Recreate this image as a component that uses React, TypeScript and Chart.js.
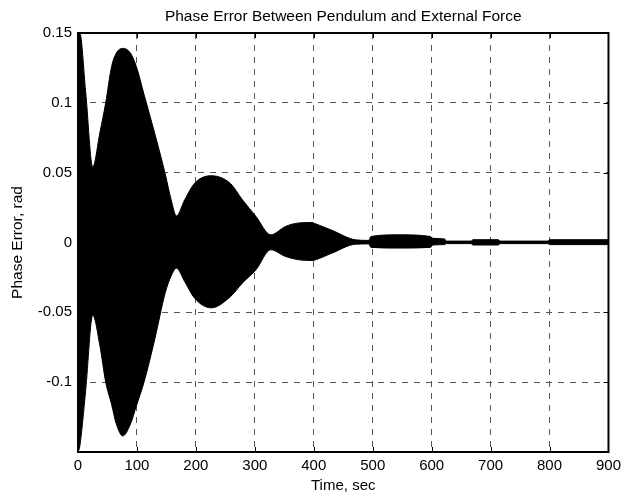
import React, { useEffect, useRef } from "react";
import { Chart, registerables } from "chart.js";

Chart.register(...registerables);

// Time samples (sec) at which the envelope of the fast oscillation was read
const times = [0, 3, 13, 25, 37, 47, 57, 65, 76, 89, 99, 112, 130, 148, 158, 167, 181, 198, 226, 258, 279, 302, 327, 352, 375, 397, 403, 431, 471, 493, 497, 544, 598, 602, 622, 625, 667, 670, 713, 716, 797, 800, 900];
// Upper envelope of phase error (rad)
const upperEnvelope = [0.15, 0.15, 0.108, 0.054, 0.0784, 0.1, 0.126, 0.1356, 0.139, 0.1356, 0.126, 0.106, 0.0784, 0.049, 0.0306, 0.019, 0.0306, 0.0425, 0.0478, 0.0425, 0.0306, 0.0186, 0.0055, 0.0115, 0.014, 0.0143, 0.0134, 0.0087, 0.0019, 0.0015, 0.0043, 0.0055, 0.0043, 0.003, 0.0025, 0.001, 0.001, 0.002, 0.002, 0.001, 0.001, 0.002, 0.002];
// Lower envelope of phase error (rad)
const lowerEnvelope = [-0.15, -0.146, -0.106, -0.052, -0.0735, -0.1, -0.116, -0.13, -0.1385, -0.13, -0.117, -0.1, -0.0697, -0.036, -0.024, -0.0184, -0.028, -0.04, -0.0468, -0.039, -0.029, -0.0195, -0.0052, -0.01, -0.0124, -0.0129, -0.0124, -0.0076, -0.0012, -0.001, -0.0035, -0.004, -0.0035, -0.0018, -0.0015, -0.0008, -0.0008, -0.0018, -0.0018, -0.0008, -0.0008, -0.0015, -0.0015];

const xTicks = [0, 100, 200, 300, 400, 500, 600, 700, 800, 900];
const xTickLabels = ["0", "100", "200", "300", "400", "500", "600", "700", "800", "900"];
const yTicks = [-0.15, -0.1, -0.05, 0, 0.05, 0.1, 0.15];
const yTickLabels = ["", "-0.1", "-0.05", "0", "0.05", "0.1", "0.15"];

const titleText = "Phase Error Between Pendulum and External Force";
const xTitle = "Time, sec";
const yTitle = "Phase Error, rad";

const FONT = "'Liberation Sans', Arial, sans-serif";

const boxPlugin = {
  id: "matlabBox",
  afterDraw(chart: any) {
    const { ctx, chartArea: a } = chart;
    const xs = chart.scales.x;
    const ys = chart.scales.y;
    ctx.save();
    ctx.strokeStyle = "#000";
    ctx.lineWidth = 1;
    const L = 5;
    ctx.beginPath();
    xs.ticks.forEach((t: any) => {
      const px = Math.round(xs.getPixelForValue(t.value)) + 0.5;
      ctx.moveTo(px, a.bottom);
      ctx.lineTo(px, a.bottom - L);
      ctx.moveTo(px, a.top);
      ctx.lineTo(px, a.top + L);
    });
    ys.ticks.forEach((t: any) => {
      const py = Math.round(ys.getPixelForValue(t.value)) + 0.5;
      ctx.moveTo(a.left, py);
      ctx.lineTo(a.left + L, py);
      ctx.moveTo(a.right, py);
      ctx.lineTo(a.right - L, py);
    });
    ctx.stroke();
    ctx.lineWidth = 2;
    ctx.strokeRect(a.left, a.top, a.right - a.left, a.bottom - a.top);
    // title centred over the axes box
    ctx.fillStyle = "#000";
    ctx.font = `15.5px ${FONT}`;
    ctx.textAlign = "center";
    ctx.textBaseline = "alphabetic";
    ctx.fillText(titleText, (a.left + a.right) / 2, 21);
    ctx.restore();
  },
};

export default function App() {
  const ref = useRef<HTMLCanvasElement>(null);
  useEffect(() => {
    if (!ref.current) return;
    const upper = times.map((t, i) => ({ x: t, y: upperEnvelope[i] }));
    const lower = times.map((t, i) => ({ x: t, y: lowerEnvelope[i] }));
    const chart = new Chart(ref.current, {
      type: "line",
      data: {
        datasets: [
          {
            label: "upper",
            data: upper,
            borderColor: "#000",
            backgroundColor: "#000",
            borderWidth: 1,
            pointRadius: 0,
            cubicInterpolationMode: "monotone",
            fill: "+1",
          },
          {
            label: "lower",
            data: lower,
            borderColor: "#000",
            backgroundColor: "#000",
            borderWidth: 1,
            pointRadius: 0,
            cubicInterpolationMode: "monotone",
            fill: false,
          },
        ],
      },
      options: {
        responsive: false,
        animation: false,
        devicePixelRatio: 1,
        layout: { padding: { left: 0, right: 14, top: 33, bottom: 0 } },
        plugins: {
          legend: { display: false },
          tooltip: { enabled: false },
          title: { display: false },
        },
        scales: {
          x: {
            type: "linear",
            min: 0,
            max: 900,
            afterBuildTicks: (s: any) => {
              s.ticks = xTicks.map((v) => ({ value: v }));
            },
            afterFit: (s: any) => {
              s.height = 46;
            },
            ticks: {
              color: "#000",
              font: { family: FONT, size: 15 },
              padding: 5,
              maxRotation: 0,
              autoSkip: false,
              callback: (_v: any, i: number) => xTickLabels[i],
            },
            grid: { color: "#555", lineWidth: 1, drawTicks: false },
            border: { display: false, dash: [6, 6] },
            title: {
              display: true,
              text: xTitle,
              color: "#000",
              font: { family: FONT, size: 15 },
              padding: { top: 0, bottom: 3 },
            },
          },
          y: {
            type: "linear",
            min: -0.15,
            max: 0.15,
            afterBuildTicks: (s: any) => {
              s.ticks = yTicks.map((v) => ({ value: v }));
            },
            afterFit: (s: any) => {
              s.width = 78;
            },
            ticks: {
              color: "#000",
              font: { family: FONT, size: 15 },
              padding: 6,
              autoSkip: false,
              callback: (_v: any, i: number) => yTickLabels[i],
            },
            grid: { color: "#555", lineWidth: 1, drawTicks: false },
            border: { display: false, dash: [6, 6] },
            title: {
              display: true,
              text: yTitle,
              color: "#000",
              font: { family: FONT, size: 15.5 },
              padding: { top: 8.5, bottom: 0 },
            },
          },
        },
      },
      plugins: [boxPlugin],
    } as any);
    return () => chart.destroy();
  }, []);
  return (
    <canvas
      ref={ref}
      width={626}
      height={498}
      style={{ position: "fixed", left: 0, top: 0, width: 626, height: 498, background: "#fff" }}
    />
  );
}
